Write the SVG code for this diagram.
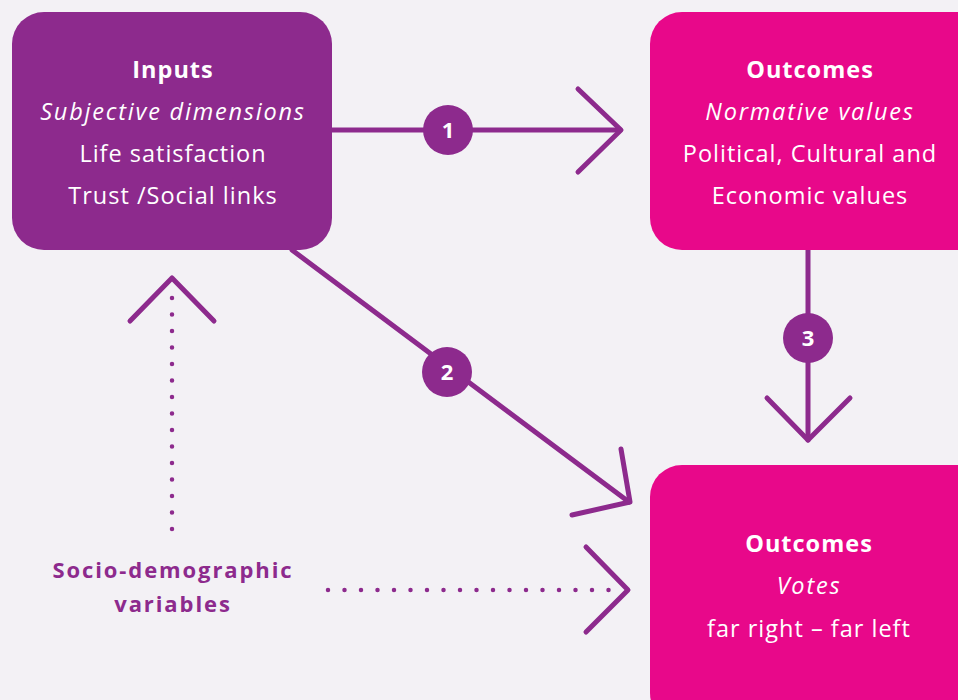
<svg xmlns="http://www.w3.org/2000/svg" width="958" height="700" viewBox="0 0 958 700">
<style>
.bg{fill:#f3f1f5}
.purple{fill:#8d2a8d}
.pink{fill:#e8088a}
.t{font-family:"Open Sans","Liberation Sans",sans-serif;font-size:23.5px;fill:#ffffff;text-anchor:middle;letter-spacing:1px}
.b{font-weight:bold;letter-spacing:1px}
.i{font-style:italic;letter-spacing:1.8px}
.line{stroke:#8d2a8d;stroke-width:5;fill:none;stroke-linecap:round;stroke-linejoin:round}
.dot{stroke:#8d2a8d;stroke-width:4.5;fill:none;stroke-linecap:round;stroke-dasharray:0 16.5}
.num{font-family:"Open Sans","Liberation Sans",sans-serif;font-size:22px;font-weight:bold;fill:#ffffff;text-anchor:middle}
.lbl{font-family:"Open Sans","Liberation Sans",sans-serif;font-size:22px;font-weight:bold;fill:#8d2a8d;text-anchor:middle;letter-spacing:1.9px}
</style>
<rect class="bg" x="0" y="0" width="958" height="700"/>
<g id="connectors">
<line class="line" x1="332" y1="130" x2="620" y2="130"/>
<polyline class="line" points="578,89 621,130 578,172"/>
<line class="line" x1="292" y1="250" x2="629" y2="502"/>
<polyline class="line" points="621,449 630,502 572,515"/>
<line class="line" x1="808" y1="250" x2="808" y2="440"/>
<polyline class="line" points="767,398 808,440 850,398"/>
<line class="dot" x1="172" y1="529" x2="172" y2="297"/>
<polyline class="line" points="130,321 172,278 214,321"/>
<line class="dot" x1="328" y1="590" x2="625" y2="590"/>
<polyline class="line" points="586,547 628,590 586,632"/>
</g>
<g id="badge1"><circle class="purple" cx="448" cy="130" r="25"/><text class="num" x="448" y="138">1</text></g>
<g id="badge2"><circle class="purple" cx="447" cy="372" r="25"/><text class="num" x="447" y="380">2</text></g>
<g id="badge3"><circle class="purple" cx="808" cy="338" r="25"/><text class="num" x="808" y="346">3</text></g>
<g id="inputs">
<rect class="purple" x="12" y="12" width="320" height="238" rx="32"/>
<text class="t b" x="173" y="78">Inputs</text>
<text class="t i" x="173" y="120">Subjective dimensions</text>
<text class="t" x="173" y="162">Life satisfaction</text>
<text class="t" x="173" y="204">Trust /Social links</text>
</g>
<g id="outcomes-values">
<rect class="pink" x="650" y="12" width="340" height="238" rx="32"/>
<text class="t b" x="810" y="78">Outcomes</text>
<text class="t i" x="810" y="120">Normative values</text>
<text class="t" x="810" y="162">Political, Cultural and</text>
<text class="t" x="810" y="204">Economic values</text>
</g>
<g id="outcomes-votes">
<rect class="pink" x="650" y="465" width="340" height="260" rx="32"/>
<text class="t b" x="809" y="552">Outcomes</text>
<text class="t i" x="809" y="594">Votes</text>
<text class="t" x="809" y="637">far right – far left</text>
</g>
<g id="socio">
<text class="lbl" x="173" y="578">Socio-demographic</text>
<text class="lbl" x="173" y="612">variables</text>
</g>
</svg>
